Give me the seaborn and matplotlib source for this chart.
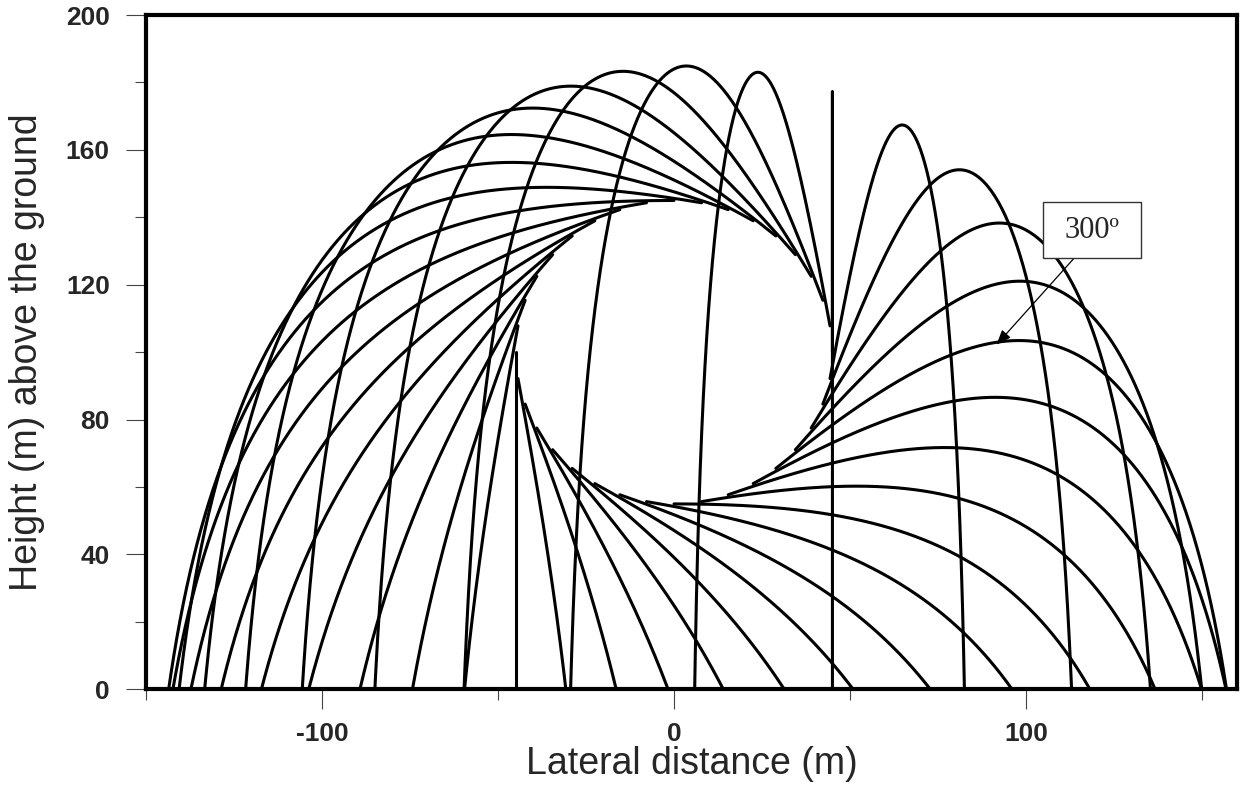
import numpy as np
import pandas as pd
import matplotlib
matplotlib.use("Agg")
import matplotlib.pyplot as plt
from matplotlib.patches import Rectangle
import seaborn as sns

# ---- data ----
release_angles = list(range(0, 360, 10))    # blade azimuth at release (deg), 10 deg steps
hub_height = 100.0                           # m, centre of the rotor circle
rotor_radius = 45.0                          # m
tip_speed = 68.0                             # m/s, launch speed (tangential)
drag_coeff = 0.0125                          # 1/m, quadratic drag factor
gravity = 9.81
label_text = "300º"

x_major = [-100, 0, 100]
x_minor = [-150, -50, 50, 150]
y_major = [0, 40, 80, 120, 160, 200]
y_minor = [20, 60, 100, 140, 180]


def trajectory(angle_deg, dt=0.01):
    th = np.radians(angle_deg)
    x, y = rotor_radius * np.cos(th), hub_height + rotor_radius * np.sin(th)
    vx, vy = -tip_speed * np.sin(th), tip_speed * np.cos(th)
    xs, ys = [x], [y]
    for _ in range(5000):
        sp = np.hypot(vx, vy)
        axc, ayc = -drag_coeff * sp * vx, -gravity - drag_coeff * sp * vy
        vxm, vym = vx + 0.5 * dt * axc, vy + 0.5 * dt * ayc
        spm = np.hypot(vxm, vym)
        axm, aym = -drag_coeff * spm * vxm, -gravity - drag_coeff * spm * vym
        xn, yn = x + dt * vxm, y + dt * vym
        vx, vy = vx + dt * axm, vy + dt * aym
        if yn <= 0:
            f = y / (y - yn)
            xs.append(x + f * (xn - x)); ys.append(0.0)
            break
        xs.append(xn); ys.append(yn)
        x, y = xn, yn
    return xs, ys


rows = []
for a in release_angles:
    xs, ys = trajectory(a)
    rows.append(pd.DataFrame({"x": xs, "y": ys, "angle": a}))
df = pd.concat(rows, ignore_index=True)

# ---- plotting ----
sns.set_style("white")
plt.rcParams["font.family"] = ["Liberation Sans", "DejaVu Sans"]
plt.rcParams["axes.unicode_minus"] = False

fig = plt.figure(figsize=(12.41, 7.95), dpi=100)
ax = fig.add_axes([0.1176, 0.1329, 0.8794, 0.8482])

sns.lineplot(data=df, x="x", y="y", units="angle", estimator=None, sort=False,
             color="black", linewidth=2.2, legend=False, ax=ax)

ax.set_xlim(-150, 160)
ax.set_ylim(0, 200)
ax.set_xticks(x_major)
ax.set_xticks(x_minor, minor=True)
ax.set_yticks(y_major)
ax.set_yticks(y_minor, minor=True)
ax.set_xticklabels([str(v) for v in x_major], fontweight="bold", fontsize=19)
ax.set_yticklabels([str(v) for v in y_major], fontweight="bold", fontsize=19)
ax.tick_params(which="major", direction="out", length=14.5, width=0.8, color="#444444",
               bottom=True, left=True)
ax.tick_params(which="minor", direction="out", length=8, width=0.8, color="#444444",
               bottom=True, left=True)
ax.tick_params(axis="x", which="major", pad=9)
ax.tick_params(axis="y", which="major", pad=11.5)
for s in ax.spines.values():
    s.set_linewidth(3)
    s.set_color("black")

ax.set_xlabel("Lateral distance (m)", fontsize=27, labelpad=0)
ax.set_ylabel("Height (m) above the ground", fontsize=27, labelpad=15)

# annotation box for the 300 deg trajectory
ax.add_patch(Rectangle((104.7, 127.8), 27.9, 16.7, facecolor="white", edgecolor="#333333",
                       linewidth=1.0, zorder=5))
ax.text(118.7, 136.0, label_text, ha="center", va="center", fontsize=22,
        family=["Liberation Serif", "DejaVu Serif"], zorder=6)
ax.annotate("", xy=(91.6, 102.2), xytext=(113.4, 127.6),
            arrowprops=dict(arrowstyle="-|>,head_length=0.9,head_width=0.35",
                            color="black", linewidth=0.9, shrinkA=0, shrinkB=0),
            zorder=6)

fig.savefig("out.png", dpi=100)
